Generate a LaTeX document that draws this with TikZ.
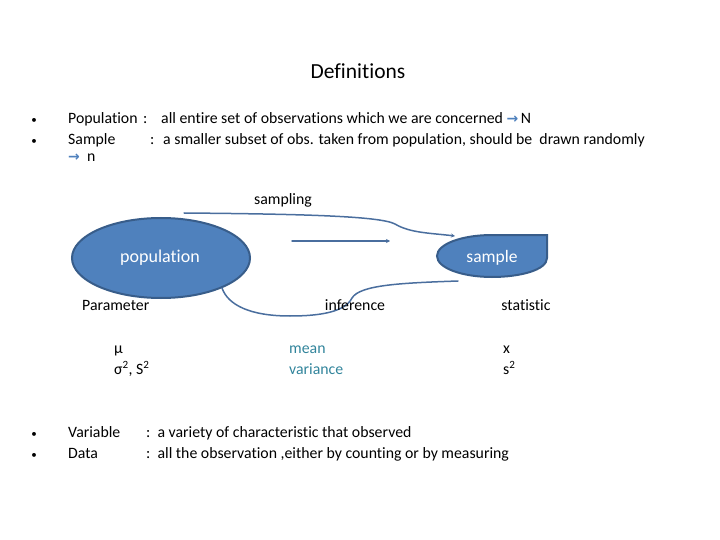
\documentclass[tikz,border=0pt]{standalone}
\usepackage{fontspec}
\setmainfont[Ligatures=NoCommon]{Carlito}
\newfontfamily\symfont{DejaVu Sans}
\usetikzlibrary{arrows.meta}
\definecolor{shapeblue}{HTML}{4F81BD}
\definecolor{shapeedge}{HTML}{385D8A}
\definecolor{linkblue}{HTML}{4A6E9E}
\definecolor{tealtext}{HTML}{31849B}
\newcommand{\blarrow}{{\color{shapeblue}\symfont\bfseries\fontsize{14}{16}\selectfont →}}
\tikzset{
  txt/.style={inner sep=0pt, anchor=base west, font=\fontsize{15.8}{18}\selectfont},
  ctxt/.style={inner sep=0pt, anchor=base, font=\fontsize{15.8}{18}\selectfont},
  bul/.style={inner sep=0pt, anchor=base, font=\fontsize{11}{13}\selectfont},
  blob/.style={fill=shapeblue, draw=shapeedge, line width=2pt},
  link/.style={draw=linkblue, line width=1.5pt, line cap=round},
  tip/.style={-{Stealth[length=4pt,width=4pt]}}
}
\begin{document}
\begin{tikzpicture}[x=1pt,y=-1pt]
\useasboundingbox (0,0) rectangle (720,540);
% title
\node[ctxt, font=\fontsize{21.5}{24}\selectfont] (title) at (358,79) {Definitions};
% top bullets
\node[bul] (b1) at (34,124) {•};
\node[bul] (b2) at (34,145) {•};
\node[txt] (pop) at (68,124) {Population};
\node[txt] (popc) at (143,124) {:};
\node[txt] (popd) at (161,124) {all entire set of observations which we are concerned \blarrow\,N};
\node[txt] (sam) at (68,145) {Sample};
\node[txt] (samc) at (150,145) {:};
\node[txt] (samd) at (163,145) {a smaller subset of obs. taken from population, should be \ drawn randomly};
\node[txt] (samn) at (68,162) {\blarrow\ \ n};
% shapes
\draw[blob] (161,258) ellipse [x radius=89, y radius=40];
\node[ctxt, text=white, font=\fontsize{18}{21}\selectfont] (population) at (160,262) {population};
\draw[blob] (492,235) -- (547,235) -- (547,258)
  .. controls (547,270) and (520,277) .. (492,277)
  .. controls (462,277) and (437,268) .. (437,256)
  .. controls (437,244) and (462,235) .. (492,235) -- cycle;
\node[ctxt, text=white, font=\fontsize{17.5}{21}\selectfont] (sample) at (492,262) {sample};
\coordinate (popTop) at (184,213);
\coordinate (samTip) at (455,236);
\coordinate (popBot) at (222,288);
\coordinate (samBot) at (458,281);
\coordinate (mA) at (292,241);
\coordinate (mB) at (390,241);
% connectors
\draw[link, tip] (popTop) .. controls (300,214) and (380,216) .. (395,224)
  .. controls (410,233) and (430,233) .. (samTip);
\draw[link, tip] (mA) -- (mB);
\draw[link] (samBot) .. controls (400,283) and (360,285) .. (352,298)
  .. controls (345,312) and (320,316) .. (290,316)
  .. controls (250,316) and (228,305) .. (popBot);
% labels
\node[ctxt] (sampling) at (283,205) {sampling};
\node[txt] (param) at (82,310) {Parameter};
\node[ctxt] (infer) at (355,310) {inference};
\node[ctxt] (stat) at (526,310) {statistic};
\node[txt] (mu) at (114,353) {μ};
\node[txt] (sig) at (114,374) {σ\textsuperscript{2}, S\textsuperscript{2}};
\node[txt, text=tealtext] (mean) at (289,353) {mean};
\node[txt, text=tealtext] (var) at (289,374) {variance};
\node[txt] (xbar) at (503,353) {x};
\node[txt] (s2) at (503,374) {s\textsuperscript{2}};
% bottom bullets
\node[bul] (b3) at (34,437) {•};
\node[bul] (b4) at (34,458) {•};
\node[txt] (var1) at (68,437) {Variable};
\node[txt] (var2) at (146,437) {:\ \ a variety of characteristic that observed};
\node[txt] (dat1) at (68,458) {Data};
\node[txt] (dat2) at (146,458) {:\ \ all the observation ,either by counting or by measuring};
\end{tikzpicture}
\end{document}
